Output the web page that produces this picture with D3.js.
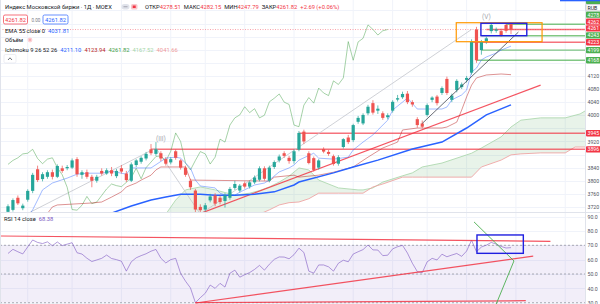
<!DOCTYPE html>
<html>
<head>
<meta charset="utf-8">
<script src="https://cdn.jsdelivr.net/npm/d3@7"></script>
<style>
  html, body { margin: 0; padding: 0; background: #fff; }
  svg { display: block; font-family: Roboto, "Liberation Sans", sans-serif; }
</style>
</head>
<body>
<svg id="chart" width="600" height="304"></svg>
<script>
// MOEX index, daily candles (bar 0 = first visible bar)
const opens = [
  3705, 3711, 3748, 3716, 3742, 3769, 3835, 3805, 3812, 3826,
  3812, 3838, 3838, 3840, 3866, 3818, 3826, 3812, 3800, 3830,
  3822, 3832, 3814, 3838, 3822, 3800, 3848, 3858, 3868, 3896,
  3882, 3884, 3866, 3856, 3890, 3862, 3840, 3800, 3770, 3720,
  3712, 3740, 3755, 3748, 3738, 3748, 3778, 3770, 3792, 3782,
  3795, 3803, 3838, 3800, 3842, 3862, 3884, 3870, 3860, 3895,
  3950, 3884, 3869, 3840, 3897, 3888, 3875, 3852, 3903, 3932,
  3924, 3980, 3975, 4006, 4037, 4014, 4006, 3994, 4014, 4048,
  4055, 4066, 4040, 3988, 3975, 4001, 4047, 4057, 4068, 4111,
  4047, 4077, 4086, 4108, 4130, 4262, 4199, 4225, 4257, 4258,
  4257, 4276, 4278.51
];
const highs = [
  3728, 3746, 3755, 3730, 3774, 3824, 3846, 3826, 3832, 3834,
  3850, 3846, 3848, 3868, 3872, 3832, 3834, 3818, 3818, 3838,
  3838, 3842, 3836, 3848, 3830, 3856, 3866, 3875, 3888, 3912,
  3918, 3890, 3872, 3872, 3896, 3866, 3846, 3806, 3775, 3728,
  3732, 3760, 3762, 3754, 3762, 3781, 3800, 3790, 3798, 3800,
  3816, 3844, 3844, 3846, 3862, 3880, 3890, 3876, 3896, 3952,
  3956, 3890, 3874, 3866, 3902, 3894, 3880, 3878, 3930, 3940,
  3974, 3998, 4006, 4032, 4046, 4030, 4012, 4006, 4046, 4062,
  4072, 4074, 4046, 3994, 3984, 4036, 4058, 4062, 4088, 4118,
  4066, 4110, 4100, 4120, 4232, 4270, 4230, 4240, 4282, 4268,
  4264, 4282, 4282.15
];
const lows = [
  3698, 3706, 3726, 3710, 3736, 3762, 3796, 3798, 3806, 3804,
  3808, 3824, 3832, 3836, 3812, 3806, 3806, 3780, 3794, 3816,
  3818, 3814, 3808, 3822, 3796, 3796, 3842, 3852, 3862, 3878,
  3876, 3860, 3846, 3850, 3864, 3834, 3812, 3772, 3700, 3698,
  3706, 3734, 3722, 3728, 3718, 3742, 3772, 3764, 3776, 3776,
  3790, 3798, 3800, 3795, 3836, 3856, 3870, 3852, 3852, 3890,
  3912, 3850, 3828, 3834, 3884, 3876, 3846, 3846, 3898, 3912,
  3918, 3974, 3970, 4000, 4002, 4004, 3986, 3988, 4008, 4042,
  4050, 4034, 4026, 3962, 3960, 3996, 4040, 4030, 4062, 4062,
  4040, 4070, 4080, 4100, 4124, 4160, 4185, 4218, 4250, 4252,
  4240, 4252, 4247.79
];
const closes = [
  3722, 3741, 3731, 3724, 3769, 3818, 3802, 3820, 3826, 3812,
  3845, 3830, 3842, 3862, 3820, 3826, 3812, 3800, 3812, 3822,
  3832, 3822, 3830, 3828, 3802, 3850, 3862, 3870, 3882, 3884,
  3896, 3868, 3852, 3866, 3870, 3840, 3818, 3780, 3712, 3710,
  3725, 3752, 3730, 3735, 3755, 3775, 3790, 3785, 3782, 3795,
  3810, 3838, 3806, 3840, 3857, 3874, 3876, 3860, 3890, 3946,
  3920, 3854, 3833, 3862, 3889, 3882, 3851, 3872, 3927, 3918,
  3970, 3992, 4001, 4026, 4008, 4020, 3992, 4000, 4041, 4052,
  4065, 4040, 4033, 3970, 3965, 4031, 4054, 4037, 4083, 4068,
  4060, 4105, 4094, 4114, 4225, 4168, 4224, 4235, 4276, 4262,
  4245, 4258, 4261.82
];

// Ichimoku 9 26 52 26 and EMA 55 as [bar, value]
const tenkan = [[4,3690],[5,3711],[6,3741],[7,3772],[9,3793],[12,3808],[14,3820],[16,3823],[19,3823],
  [21,3829],[24,3820],[25,3839],[29,3839],[32,3869],[34,3872],[35,3869],[37,3839],[38,3802],[39,3784],
  [42,3778],[43,3762],[44,3756],[46,3756],[47,3765],[50,3787],[52,3793],[53,3802],[55,3827],[57,3839],
  [58,3848],[59,3863],[62,3884],[63,3869],[66,3866],[69,3872],[70,3894],[72,3918],[74,3940],[75,3955],
  [77,3985],[78,4016],[80,4040],[81,4053],[83,4019],[85,4019],[88,4019],[89,4025],[90,4047],[92,4062],
  [93,4077],[94,4132],[95,4144],[96,4169],[97,4178],[99,4190],[100,4199],[102,4211.10]];
const kijun = [[8,3700],[9,3720],[10,3726],[17,3732],[19,3735],[21,3750],[23,3766],[24,3781],[26,3793],
  [27,3802],[29,3817],[30,3833],[31,3842],[36,3842],[37,3802],[53,3799],[54,3811],[58,3817],[59,3811],
  [63,3817],[66,3826],[70,3842],[73,3872],[76,3900],[79,3918],[80,3955],[83,3961],[88,3961],[89,3964],
  [91,3979],[92,4016],[93,4056],[94,4092],[95,4114],[97,4123],[100,4126],[102,4123.94]];
const ema55 = [[19,3694],[21,3701],[25,3723],[29,3741],[32,3750],[35,3759],[39,3759],[42,3756],[46,3756],
  [50,3759],[54,3766],[58,3787],[59,3796],[66,3824],[70,3842],[75,3863],[82,3897],[88,3918],[93,3961],
  [97,4001],[102,4031.81]];
const chikouShift = 25;

// Cloud (leading spans), shifted forward, common bar grid
const cloudBars = [32, 34, 36, 39, 42, 46, 49, 51, 53, 55, 57, 59, 61, 63, 67, 71, 72, 74, 76, 80,
  82, 84, 88, 93, 94, 96, 100, 102, 104, 108, 113, 115, 116, 118];
const spanA = [3698, 3741, 3772, 3781, 3772, 3756, 3762, 3770, 3781, 3796, 3814, 3839, 3833, 3802, 3778,
  3772, 3772, 3778, 3796, 3815, 3824, 3842, 3854, 3879, 3884, 3900, 3934, 3964, 3985, 3992, 3992, 4000,
  4004, 4022];
const spanB = [3640, 3640, 3650, 3650, 3660, 3660, 3680, 3698, 3711, 3726, 3733, 3735, 3745, 3762, 3762,
  3762, 3762, 3781, 3790, 3811, 3811, 3811, 3811, 3811, 3811, 3842, 3863, 3879, 3882, 3885, 3885, 3903,
  3903, 3903];

// RSI 14 close, one value per bar
const rsiValues = [
  64.3, 67.2, 65.5, 64.0, 68.9, 73.7, 72.0, 71.2, 72.4, 69.7,
  72.3, 69.8, 70.8, 71.8, 64.8, 63.9, 61.0, 58.7, 59.8, 60.9,
  63.2, 60.8, 60.0, 58.9, 52.0, 58.5, 61.3, 62.8, 64.1, 65.9,
  67.1, 61.0, 57.7, 60.0, 60.9, 50.5, 45.0, 40.3, 30.0, 33.5,
  36.6, 42.3, 40.0, 43.5, 40.9, 50.5, 52.7, 47.8, 49.5, 51.0,
  53.2, 56.0, 52.7, 56.8, 60.2, 61.9, 61.8, 60.6, 63.5, 68.0,
  65.0, 52.0, 50.6, 56.3, 56.3, 55.0, 52.0, 57.5, 59.6, 58.5,
  63.9, 65.5, 67.0, 70.2, 66.8, 66.7, 62.8, 63.1, 67.5, 69.0,
  70.0, 64.6, 57.5, 51.7, 50.9, 58.5, 60.9, 59.8, 63.8, 62.0,
  63.2, 64.3, 62.3, 66.0, 73.6, 65.5, 68.8, 70.1, 72.0, 70.8,
  69.2, 68.1, 68.38
];

// Axis ticks and time grid
const priceTicks = [3720, 3760, 3800, 3840, 3880, 3920, 3960, 4000, 4040, 4080, 4120, 4160, 4200, 4240, 4280, 4320];
const rsiTicks = [30, 40, 50, 60, 70, 80, 90];
const rsiLevels = [70, 50, 30];
const gridBars = [4, 13, 23, 33, 40, 48, 58, 70, 78, 85, 93, 103, 113];

// Drawings on the price pane
const horizontalLines = [
  { value: 4278, from: 101, color: 'green' },
  { value: 4262, from: 97, color: 'red' },
  { value: 4243, from: 96, color: 'green' },
  { value: 4223, from: 94, color: 'red' },
  { value: 4199, from: 96, color: 'green' },
  { value: 4168, from: 95, color: 'green' },
  { value: 3945, from: 59, color: 'red' },
  { value: 3896, from: 29, color: 'red' }
];
// price scale only shows the first four digits (the rest is off the edge)
const axisLabels = [
  { value: 3896, text: '3896', color: 'red' },
  { value: 3945, text: '3945', color: 'red' },
  { value: 4168, text: '4168', color: 'green' },
  { value: 4199, text: '4199', color: 'green' },
  { value: 4223, text: '4223', color: 'red' },
  { value: 4243, text: '4243', color: 'green' },
  { value: 4261.82, text: '4261', color: 'red' },
  { value: 4262, text: '4262', color: 'red' },
  { value: 4278, text: '4278', color: 'green' },
  { value: 4300, text: 'RUB', color: 'currency' },
  { value: 4320, text: '', color: 'green' }
];
const waveLine = [[4, 3700], [30, 3900], [39, 3698], [94, 4262]];
const waveLabels = [{ text: '(III)', bar: 31, value: 3928 }, { text: '(V)', bar: 97, value: 4300 }];
const redTrend = [[39, 3700], [108, 4092]];
const darkTrend = [[84, 3975], [103.5, 4254]];
const orangeBox = { bars: [90.9, 108.3], values: [4224.6, 4282.6] };
const blueBox = { bars: [95.9, 105.2], values: [4243, 4281] };

// Drawings on the RSI pane
const rsiRedLines = [
  [[-2, 76.5], [110, 72.8]],
  [[38, 29.8], [106.5, 62.5]],
  [[38, 30.0], [105, 31.4]]
];
const rsiGreenLine = [[94.5, 86.3], [102.6, 59.1], [99, 29.1], [98.2, 19.3]];
const rsiBlueBox = { bars: [95.1, 104.5], values: [64.4, 77.2] };

// ---------------------------------------------------------------
const colors = {
  up: '#26a69a', down: '#ef5350',
  green: '#4caf50', red: '#f23645',
  grid: '#f0f3fa', text: '#131722', axisText: '#50535e'
};

const svg = d3.select('#chart');
const plotRight = 585;
const mainBottom = 212;
const rsiBottom = 304;

const x = d3.scaleLinear().domain([0, 102]).range([8, 511]);
const y = d3.scaleLinear().domain([3704.5, 4352]).range([mainBottom, 0]);
const yR = d3.scaleLinear().domain([29.1, 93.2]).range([rsiBottom, mainBottom]);

const defs = svg.append('defs');
defs.append('clipPath').attr('id', 'clip-main')
  .append('rect').attr('x', 0).attr('y', 0).attr('width', plotRight).attr('height', mainBottom);
defs.append('clipPath').attr('id', 'clip-rsi')
  .append('rect').attr('x', 0).attr('y', mainBottom).attr('width', plotRight).attr('height', rsiBottom - mainBottom);

svg.append('rect').attr('width', 600).attr('height', 304).attr('fill', '#fff');

// Grid
const grid = svg.append('g');
grid.selectAll('.vgrid').data(gridBars).join('line')
  .attr('x1', d => x(d)).attr('x2', d => x(d))
  .attr('y1', 0).attr('y2', rsiBottom)
  .attr('stroke', colors.grid).attr('stroke-width', 1);
grid.selectAll('.hgrid').data(priceTicks).join('line')
  .attr('x1', 0).attr('x2', plotRight)
  .attr('y1', d => Math.round(y(d)) + 0.5).attr('y2', d => Math.round(y(d)) + 0.5)
  .attr('stroke', colors.grid);
grid.selectAll('.rgrid').data(rsiTicks).join('line')
  .attr('x1', 0).attr('x2', plotRight)
  .attr('y1', d => Math.round(yR(d)) + 0.5).attr('y2', d => Math.round(yR(d)) + 0.5)
  .attr('stroke', colors.grid);

// ---------------- price pane ----------------
const main = svg.append('g').attr('clip-path', 'url(#clip-main)');

// Cloud fills: green where span A is above span B, red otherwise
const cloud = cloudBars.map((b, i) => ({ b, a: spanA[i], s: spanB[i] }));
const between = d3.area().x(d => x(d.b)).y0(d => y(d.s)).y1(d => y(d.a));
defs.append('clipPath').attr('id', 'below-a')
  .append('path').attr('d', d3.area().x(d => x(d.b)).y0(mainBottom + 50).y1(d => y(d.a))(cloud));
defs.append('clipPath').attr('id', 'above-a')
  .append('path').attr('d', d3.area().x(d => x(d.b)).y0(-50).y1(d => y(d.a))(cloud));
main.append('g').attr('clip-path', 'url(#below-a)')
  .append('path').attr('d', between(cloud)).attr('fill', 'rgba(67,160,71,0.12)');
main.append('g').attr('clip-path', 'url(#above-a)')
  .append('path').attr('d', between(cloud)).attr('fill', 'rgba(244,67,54,0.12)');

const knotLine = d3.line().x(d => x(d[0])).y(d => y(d[1]));
main.append('path').attr('d', d3.line().x(d => x(d.b)).y(d => y(d.a))(cloud))
  .attr('fill', 'none').attr('stroke', '#a5d6a7').attr('stroke-width', 0.8);
main.append('path').attr('d', d3.line().x(d => x(d.b)).y(d => y(d.s))(cloud))
  .attr('fill', 'none').attr('stroke', '#ef9a9a').attr('stroke-width', 0.8);

// Horizontal level lines
main.selectAll('.hline').data(horizontalLines).join('line')
  .attr('x1', d => x(d.from)).attr('x2', plotRight)
  .attr('y1', d => y(d.value)).attr('y2', d => y(d.value))
  .attr('stroke', d => colors[d.color]).attr('stroke-width', 1.4).attr('stroke-opacity', 0.7);

// Current price line
main.append('line')
  .attr('x1', 0).attr('x2', plotRight)
  .attr('y1', y(closes[closes.length - 1])).attr('y2', y(closes[closes.length - 1]))
  .attr('stroke', colors.red).attr('stroke-opacity', 0.45).attr('stroke-dasharray', '1,1.5');

// Wave count and trend lines
main.append('path').attr('d', knotLine(waveLine))
  .attr('fill', 'none').attr('stroke', '#c3c5cc').attr('stroke-width', 0.8);
main.append('path').attr('d', knotLine(redTrend))
  .attr('fill', 'none').attr('stroke', colors.red).attr('stroke-width', 1.2).attr('stroke-opacity', 0.85);

// Ichimoku lines and EMA
const chikou = closes.slice(chikouShift).map((c, i) => [i, c]);
main.append('path').attr('d', knotLine(chikou))
  .attr('fill', 'none').attr('stroke', '#43a047').attr('stroke-width', 0.8).attr('stroke-opacity', 0.6);
main.append('path').attr('d', knotLine(kijun))
  .attr('fill', 'none').attr('stroke', '#b71c1c').attr('stroke-width', 0.8).attr('stroke-opacity', 0.6);
main.append('path').attr('d', knotLine(tenkan))
  .attr('fill', 'none').attr('stroke', '#2962ff').attr('stroke-width', 0.8).attr('stroke-opacity', 0.55);
main.append('path').attr('d', knotLine(ema55))
  .attr('fill', 'none').attr('stroke', '#2962ff').attr('stroke-width', 1.5);

// Candles
const bars = d3.range(closes.length);
const isUp = i => closes[i] >= opens[i];
main.selectAll('.wick').data(bars).join('line')
  .attr('x1', i => x(i)).attr('x2', i => x(i))
  .attr('y1', i => y(highs[i])).attr('y2', i => y(lows[i]))
  .attr('stroke', i => isUp(i) ? colors.up : colors.down).attr('stroke-width', 0.7);
main.selectAll('.body').data(bars).join('rect')
  .attr('x', i => x(i) - 1.6).attr('width', 3.2)
  .attr('y', i => y(Math.max(opens[i], closes[i])))
  .attr('height', i => Math.max(0.8, Math.abs(y(opens[i]) - y(closes[i]))))
  .attr('fill', i => isUp(i) ? colors.up : colors.down);

main.append('path').attr('d', knotLine(darkTrend))
  .attr('fill', 'none').attr('stroke', '#434651').attr('stroke-width', 0.8);

// Boxes
const box = (g, b, scaleY, stroke, width) => g.append('rect')
  .attr('x', x(b.bars[0])).attr('width', x(b.bars[1]) - x(b.bars[0]))
  .attr('y', scaleY(b.values[1])).attr('height', scaleY(b.values[0]) - scaleY(b.values[1]))
  .attr('fill', 'none').attr('stroke', stroke).attr('stroke-width', width);
box(main, orangeBox, y, '#ff9800', 1.2);
box(main, blueBox, y, '#1f1fe0', 1.4);

main.selectAll('.wave-label').data(waveLabels).join('text')
  .attr('x', d => x(d.bar)).attr('y', d => y(d.value))
  .attr('text-anchor', 'middle').attr('dominant-baseline', 'central')
  .attr('font-size', 6.5).attr('fill', '#a3a6af')
  .text(d => d.text);

// ---------------- RSI pane ----------------
const rsi = svg.append('g').attr('clip-path', 'url(#clip-rsi)');
rsi.append('rect')
  .attr('x', 0).attr('width', plotRight)
  .attr('y', yR(70)).attr('height', yR(30) - yR(70))
  .attr('fill', 'rgba(126,87,194,0.1)');
rsi.selectAll('.level').data(rsiLevels).join('line')
  .attr('x1', 0).attr('x2', plotRight)
  .attr('y1', d => yR(d)).attr('y2', d => yR(d))
  .attr('stroke', '#9598a1').attr('stroke-dasharray', '2,2').attr('stroke-width', 0.8);

const rsiKnot = d3.line().x(d => x(d[0])).y(d => yR(d[1]));
rsi.append('path').attr('d', d3.line().x((d, i) => x(i)).y(d => yR(d))(rsiValues))
  .attr('fill', 'none').attr('stroke', '#7e57c2').attr('stroke-width', 0.8).attr('stroke-opacity', 0.75);
rsi.selectAll('.rsi-red').data(rsiRedLines).join('path')
  .attr('d', d => rsiKnot(d))
  .attr('fill', 'none').attr('stroke', colors.red).attr('stroke-width', 1.2).attr('stroke-opacity', 0.85);
rsi.append('path').attr('d', rsiKnot(rsiGreenLine))
  .attr('fill', 'none').attr('stroke', colors.green).attr('stroke-width', 0.9);
box(rsi, rsiBlueBox, yR, '#1f1fe0', 1.4);

// Pane separator and price scale border
svg.append('line').attr('x1', 0).attr('x2', 600).attr('y1', mainBottom + 0.5).attr('y2', mainBottom + 0.5)
  .attr('stroke', '#e0e3eb');
svg.append('line').attr('x1', plotRight + 0.5).attr('x2', plotRight + 0.5).attr('y1', 0).attr('y2', 304)
  .attr('stroke', '#e0e3eb');
svg.append('line').attr('x1', 0.5).attr('x2', 0.5).attr('y1', 0).attr('y2', 304)
  .attr('stroke', '#e0e3eb');

// ---------------- price scale ----------------
// stack the line labels upward the way the price scale does
const labelH = 6.9;
const stacked = axisLabels.slice().sort((a, b) => a.value - b.value);
let prevY = Infinity;
stacked.forEach(d => {
  d.y = Math.min(y(d.value), prevY - labelH);
  prevY = d.y;
});

const axisFont = 5.2;
const freeTicks = priceTicks.filter(t => stacked.every(l => Math.abs(l.y - y(t)) > 6));
const priceAxis = svg.append('g')
  .attr('transform', `translate(${plotRight},0)`)
  .call(d3.axisRight(y).tickValues(freeTicks).tickSize(0).tickPadding(2.5).tickFormat(d3.format('d')));
priceAxis.select('.domain').remove();
priceAxis.selectAll('text').attr('font-size', axisFont).attr('fill', colors.axisText).attr('font-family', 'Roboto');

const rsiAxis = svg.append('g')
  .attr('transform', `translate(${plotRight},0)`)
  .call(d3.axisRight(yR).tickValues(rsiTicks).tickSize(0).tickPadding(2.5).tickFormat(d3.format('.1f')));
rsiAxis.select('.domain').remove();
rsiAxis.selectAll('text').attr('font-size', axisFont).attr('fill', colors.axisText).attr('font-family', 'Roboto');

const labelG = svg.append('g').selectAll('g').data(stacked).join('g')
  .attr('transform', d => `translate(${plotRight + 1},${d.y})`);
labelG.append('rect')
  .attr('x', 0).attr('y', -labelH / 2 + 0.3).attr('width', 16).attr('height', labelH - 0.6)
  .attr('rx', 0.8)
  .attr('fill', d => d.color === 'currency' ? '#fff' : colors[d.color])
  .attr('stroke', d => d.color === 'currency' ? '#b2b5be' : 'none').attr('stroke-width', 0.6);
labelG.filter(d => d.text).append('text')
  .attr('x', 1.5).attr('y', 0).attr('dominant-baseline', 'central')
  .attr('font-size', axisFont)
  .attr('fill', d => d.color === 'currency' ? colors.text : '#fff')
  .text(d => d.text);

svg.append('rect').attr('x', 560).attr('y', 0).attr('width', 40).attr('height', 1.3).attr('fill', '#2962ff');

// ---------------- legend ----------------
const legend = svg.append('g').attr('font-size', 5.8).attr('fill', colors.text);
legend.append('text').attr('x', 5).attr('y', 8.8).text('Индекс Московской биржи · 1Д · MOEX');
legend.append('rect').attr('x', 121.5).attr('y', 4).attr('width', 8).attr('height', 5.5).attr('rx', 2.7).attr('fill', '#e0e3eb');
legend.append('line').attr('x1', 123.5).attr('x2', 127.5).attr('y1', 6.75).attr('y2', 6.75).attr('stroke', '#787b86').attr('stroke-width', 0.6);
legend.append('rect').attr('x', 131).attr('y', 4).attr('width', 6.5).attr('height', 5.5).attr('rx', 1.5).attr('fill', '#f7c8cc');
legend.append('rect').attr('x', 132.7).attr('y', 5.5).attr('width', 3).attr('height', 2.5).attr('fill', '#f23645');

const ohlc = legend.append('text').attr('x', 145).attr('y', 8.8);
[['ОТКР', '4278.51'], ['МАКС', '4282.15'], ['МИН', '4247.79'], ['ЗАКР', '4261.82']].forEach(([k, v], i) => {
  ohlc.append('tspan').attr('dx', i ? 3 : 0).attr('fill', colors.text).text(k);
  ohlc.append('tspan').attr('fill', colors.red).text(v);
});
ohlc.append('tspan').attr('dx', 3).attr('fill', colors.red).text('+2.69 (+0.06%)');

// price boxes
legend.append('rect').attr('x', 3.5).attr('y', 15).attr('width', 24).attr('height', 9).attr('rx', 1.5)
  .attr('fill', '#fff').attr('stroke', colors.red).attr('stroke-width', 0.7);
legend.append('text').attr('x', 15.5).attr('y', 21.5).attr('text-anchor', 'middle').attr('fill', colors.red).text('4261.82');
legend.append('text').attr('x', 31.5).attr('y', 21.5).attr('font-size', 4.6).attr('fill', '#787b86').text('0.00');
legend.append('rect').attr('x', 43).attr('y', 15).attr('width', 25).attr('height', 9).attr('rx', 1.5)
  .attr('fill', '#fff').attr('stroke', '#2962ff').attr('stroke-width', 0.7);
legend.append('text').attr('x', 55.5).attr('y', 21.5).attr('text-anchor', 'middle').attr('fill', '#2962ff').text('4261.82');

const emaText = legend.append('text').attr('x', 5).attr('y', 32.6);
emaText.append('tspan').text('EMA 55 close 0');
emaText.append('tspan').attr('dx', 3).attr('fill', '#2962ff').text('4031.81');

legend.append('text').attr('x', 5).attr('y', 42).text('Объём');
legend.append('circle').attr('cx', 30).attr('cy', 40).attr('r', 2.4).attr('fill', '#fbd3d6');
legend.append('line').attr('x1', 30).attr('x2', 30).attr('y1', 38.8).attr('y2', 40.8).attr('stroke', colors.red).attr('stroke-width', 0.5);

const ichiText = legend.append('text').attr('x', 5).attr('y', 52);
ichiText.append('tspan').text('Ichimoku 9 26 52 26');
[['4211.10', '#2962ff'], ['4123.94', '#b71c1c'], ['4261.82', '#43a047'], ['4167.52', '#a5d6a7'], ['4041.66', '#ef9a9a']]
  .forEach(([v, c]) => ichiText.append('tspan').attr('dx', 3).attr('fill', c).text(v));

legend.append('rect').attr('x', 4).attr('y', 54.5).attr('width', 12).attr('height', 8.5).attr('rx', 1.5)
  .attr('fill', '#fff').attr('stroke', '#e0e3eb').attr('stroke-width', 0.6);
legend.append('path').attr('d', 'M8,60 L10,57.8 L12,60').attr('fill', 'none').attr('stroke', '#131722').attr('stroke-width', 0.6);

const rsiText = legend.append('text').attr('x', 4).attr('y', 221);
rsiText.append('tspan').text('RSI 14 close');
rsiText.append('tspan').attr('dx', 3).attr('fill', '#7e57c2').text('68.38');
</script>
</body>
</html>
